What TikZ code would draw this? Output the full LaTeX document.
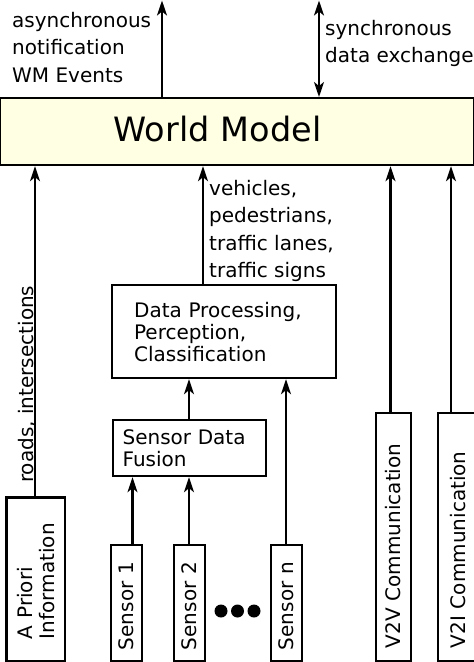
\documentclass[tikz,border=0pt]{standalone}
\usepackage{fontspec}
\setmainfont{DejaVu Sans}
\usetikzlibrary{arrows.meta}
\definecolor{wmfill}{RGB}{255,255,228}
\begin{document}
\begin{tikzpicture}[x=1pt,y=-1pt,
  box/.style={draw, line width=2.2pt, inner sep=0pt},
  arr/.style={line width=2.2pt, -{Stealth[length=15pt,width=10pt,inset=4pt]}},
  darr/.style={line width=2.2pt, {Stealth[length=15pt,width=10pt,inset=4pt]}-{Stealth[length=15pt,width=10pt,inset=4pt]}},
  lbl/.style={font=\fontsize{20}{27.5}\selectfont, align=left, inner sep=0pt},
  hbox/.style={box, anchor=north west, align=left, font=\fontsize{20}{22}\selectfont},
  vbox/.style={box, rotate=90, align=left, font=\fontsize{20}{22}\selectfont},
]
\useasboundingbox (0,0) rectangle (474,662);

% World Model
\node[box, fill=wmfill, anchor=north west, minimum width=474, minimum height=67,
  text width=246, inner xsep=114, align=left, font=\fontsize{33.5}{40}\selectfont,
  text height=24, text depth=5] (wm) at (-1.5,97) {World Model};

% top arrows and labels
\coordinate (asyncend) at (162,0.5);
\coordinate (syncend) at (319,0.5);
\draw[arr] (asyncend |- wm.north) -- (asyncend);
\draw[darr] (syncend |- wm.north) -- (syncend);
\node[lbl, anchor=north west] (asynclbl) at (12,11.8) {asynchronous\\notification\\WM Events};
\node[lbl, anchor=north west] (synclbl) at (325,19.8) {synchronous\\data exchange};

% processing boxes
\node[hbox, minimum width=224, minimum height=93, text width=180, inner xsep=22] (dp) at (111,284)
  {Data Processing,\\Perception,\\Classification};
\node[hbox, minimum width=153, minimum height=56, text width=133, inner xsep=10] (sdf) at (111.5,419)
  {Sensor Data\\Fusion};

% vertical boxes
\node[vbox, minimum width=163.5, minimum height=58.5, text width=119.5, inner xsep=22] (apriori) at (35.75,579.25)
  {A Priori\\Information};
\node[vbox, minimum width=116, minimum height=31, text width=94, inner xsep=11] (s1) at (126.5,603) {Sensor 1};
\node[vbox, minimum width=116, minimum height=31, text width=94, inner xsep=11] (s2) at (189.5,603) {Sensor 2};
\node[vbox, minimum width=116, minimum height=31, text width=94, inner xsep=11] (sn) at (286.5,603) {Sensor n};
\node[vbox, minimum width=248, minimum height=35, text width=222, inner xsep=13] (v2v) at (393.5,537) {V2V Communication};
\node[vbox, minimum width=248, minimum height=40, text width=222, inner xsep=13] (v2i) at (458,537) {V2I Communication};

% dots
\fill (221,611) circle[radius=6.5pt];
\fill (237.5,611) circle[radius=6.5pt];
\fill (254,611) circle[radius=6.5pt];

% connector x positions
\coordinate (xa) at (35,0);
\coordinate (xdp) at (203,0);
\coordinate (xv2v) at (390.5,0);
\coordinate (xv2i) at (451,0);
\coordinate (xsdf) at (189,0);
\coordinate (xsn) at (286,0);
\coordinate (xs1) at (132.5,0);
\coordinate (xs2) at (189,0);

\draw[arr] (apriori.east -| xa) -- (wm.south -| xa);
\draw[arr] (dp.north -| xdp) -- (wm.south -| xdp);
\draw[arr] (v2v.east -| xv2v) -- (wm.south -| xv2v);
\draw[arr] (v2i.east -| xv2i) -- (wm.south -| xv2i);
\draw[arr] (sdf.north -| xsdf) -- (dp.south -| xsdf);
\draw[arr] (sn.east -| xsn) -- (dp.south -| xsn);
\draw[arr] (s1.east -| xs1) -- (sdf.south -| xs1);
\draw[arr] (s2.east -| xs2) -- (sdf.south -| xs2);

\node[lbl, anchor=north west] (objlbl) at (209,179.8) {vehicles,\\pedestrians,\\traffic lanes,\\traffic signs};
\node[lbl, rotate=90, anchor=base west] (roadlbl) at (33,483) {roads, intersections};
\end{tikzpicture}
\end{document}
